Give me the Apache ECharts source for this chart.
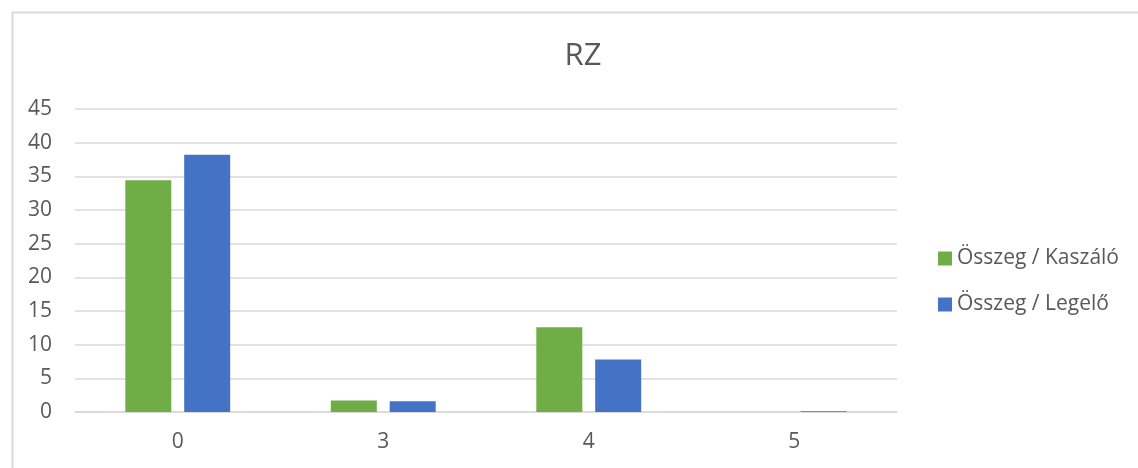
<!DOCTYPE html>
<html>
<head>
<meta charset="utf-8">
<script src="https://cdn.jsdelivr.net/npm/echarts@6/dist/echarts.min.js"></script>
<style>
  html, body { margin: 0; padding: 0; background: #ffffff; }
  #chart { width: 1138px; height: 468px; }
</style>
</head>
<body>
<div id="chart"></div>
<script>
// RZ értékek kategóriánként
const categories = ['0', '3', '4', '5'];
const kaszalo = [34.4, 1.7, 12.6, 0];
const legelo = [38.2, 1.6, 7.8, 0.1];
const seriesNames = ['Összeg / Kaszáló', 'Összeg / Legelő'];

const FONT = '"Open Sans", "Noto Sans", sans-serif';
const TEXT = '#595959';
const GRID = '#d9d9d9';

const chart = echarts.init(document.getElementById('chart'), null, { renderer: 'canvas' });
chart.setOption({
  animation: false,
  backgroundColor: '#ffffff',
  graphic: [{
    type: 'rect',
    left: 10, top: 10,
    shape: { width: 1150, height: 480 },
    style: { fill: 'none', stroke: GRID, lineWidth: 2 },
    silent: true
  }],
  title: {
    text: 'RZ',
    left: 578, top: 36,
    textAlign: 'center',
    textStyle: { fontFamily: FONT, fontSize: 31, fontWeight: 'normal', color: TEXT }
  },
  legend: {
    orient: 'vertical',
    left: 933, top: 243,
    itemWidth: 14, itemHeight: 14, itemGap: 25,
    icon: 'rect',
    textStyle: { fontFamily: FONT, fontSize: 21, color: TEXT },
    data: seriesNames
  },
  grid: { left: 75, right: 241, top: 109, bottom: 56, containLabel: false },
  xAxis: {
    type: 'category',
    data: categories,
    axisLine: { lineStyle: { color: GRID, width: 1.5 } },
    axisTick: { show: false },
    axisLabel: { fontFamily: FONT, fontSize: 21, color: TEXT, margin: 20 }
  },
  yAxis: {
    type: 'value',
    min: 0, max: 45, interval: 5,
    axisLine: { show: false },
    axisTick: { show: false },
    axisLabel: { fontFamily: FONT, fontSize: 21, color: TEXT, margin: 23 },
    splitLine: { lineStyle: { color: GRID, width: 1.5 } }
  },
  series: [
    {
      name: seriesNames[0], type: 'bar', data: kaszalo,
      barWidth: 46, barGap: '28%',
      itemStyle: { color: '#70ad47' }
    },
    {
      name: seriesNames[1], type: 'bar', data: legelo,
      barWidth: 46, barGap: '28%',
      itemStyle: { color: '#4472c4' }
    }
  ]
});
</script>
</body>
</html>
